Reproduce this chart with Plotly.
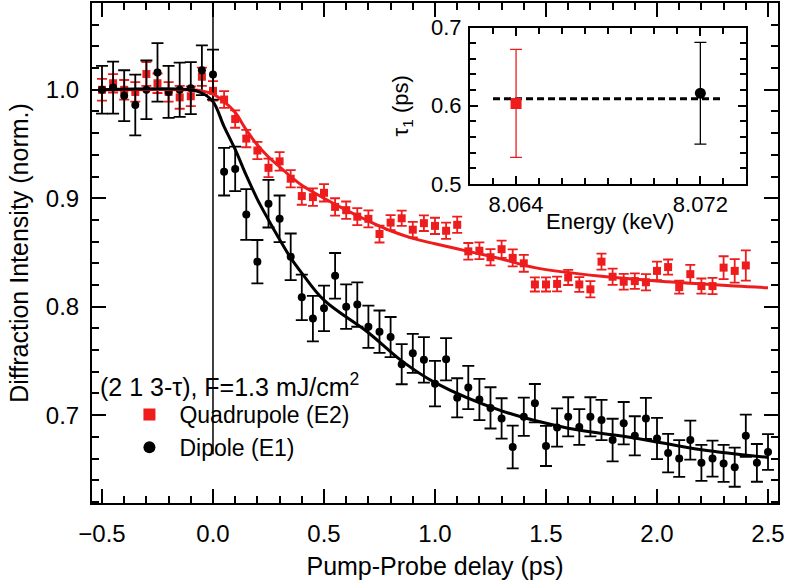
import plotly.graph_objects as go

# ---- main panel data ----
delay_e2 = [-0.50, -0.45, -0.40, -0.35, -0.30, -0.25, -0.20, -0.15, -0.10, -0.05,
            0.00, 0.05, 0.10, 0.15, 0.20, 0.25, 0.30, 0.35, 0.40, 0.45,
            0.50, 0.55, 0.60, 0.65, 0.70, 0.75, 0.80, 0.85, 0.90, 0.95,
            1.00, 1.05, 1.10, 1.15, 1.20, 1.25, 1.30, 1.35, 1.40, 1.45,
            1.50, 1.55, 1.60, 1.65, 1.70, 1.75, 1.80, 1.85, 1.90, 1.95,
            2.00, 2.05, 2.10, 2.15, 2.20, 2.25, 2.30, 2.35, 2.40]
intensity_e2 = [1.000, 1.006, 1.000, 0.998, 1.0145, 1.006, 0.998, 0.993, 0.994, 1.012,
                0.999, 0.991, 0.973, 0.955, 0.944, 0.928, 0.934, 0.918, 0.902, 0.901,
                0.905, 0.892, 0.889, 0.883, 0.881, 0.867, 0.8775, 0.8815, 0.871, 0.877,
                0.8745, 0.870, 0.8755, 0.851, 0.8516, 0.8456, 0.853, 0.845, 0.840, 0.8205,
                0.8205, 0.821, 0.827, 0.8205, 0.816, 0.8415, 0.8276, 0.823, 0.8236, 0.8225,
                0.833, 0.8365, 0.818, 0.830, 0.819, 0.819, 0.836, 0.833, 0.838]
err_e2 = [0.010, 0.0085, 0.009, 0.009, 0.011, 0.009, 0.009, 0.0105, 0.009, 0.0085,
          0.009, 0.0077, 0.008, 0.008, 0.008, 0.0085, 0.0085, 0.008, 0.008, 0.008,
          0.008, 0.008, 0.008, 0.0078, 0.0078, 0.0078, 0.007, 0.007, 0.0072, 0.0072,
          0.0075, 0.0075, 0.0075, 0.0077, 0.0077, 0.0075, 0.008, 0.0078, 0.0078, 0.0065,
          0.0065, 0.0068, 0.007, 0.0068, 0.0075, 0.0074, 0.0075, 0.0072, 0.0072, 0.0075,
          0.0085, 0.007, 0.006, 0.0085, 0.007, 0.0075, 0.0105, 0.0108, 0.014]

delay_e1 = [-0.50, -0.45, -0.40, -0.35, -0.30, -0.25, -0.20, -0.15, -0.10, -0.05,
            0.00, 0.05, 0.10, 0.15, 0.20, 0.25, 0.30, 0.35, 0.40, 0.45,
            0.50, 0.55, 0.60, 0.65, 0.70, 0.75, 0.80, 0.85, 0.90, 0.95,
            1.00, 1.05, 1.10, 1.15, 1.20, 1.25, 1.30, 1.35, 1.40, 1.45,
            1.50, 1.55, 1.60, 1.65, 1.70, 1.75, 1.80, 1.85, 1.90, 1.95,
            2.00, 2.05, 2.10, 2.15, 2.20, 2.25, 2.30, 2.35, 2.40, 2.45, 2.50]
intensity_e1 = [1.000, 1.002, 0.9945, 0.986, 1.000, 1.016, 0.998, 1.000, 1.0015, 1.018,
                1.014, 0.9245, 0.927, 0.885, 0.8415, 0.895, 0.881, 0.846, 0.8086, 0.789,
                0.7985, 0.8285, 0.800, 0.802, 0.7815, 0.777, 0.772, 0.747, 0.757, 0.751,
                0.729, 0.7516, 0.716, 0.7255, 0.7144, 0.7067, 0.697, 0.6706, 0.6985, 0.711,
                0.6716, 0.6886, 0.6985, 0.689, 0.6985, 0.6955, 0.677, 0.6926, 0.681, 0.697,
                0.6785, 0.665, 0.660, 0.677, 0.656, 0.660, 0.6555, 0.652, 0.681, 0.656, 0.666]
err_e1 = [0.022, 0.024, 0.0235, 0.028, 0.027, 0.027, 0.024, 0.025, 0.024, 0.023,
          0.023, 0.022, 0.0205, 0.0234, 0.020, 0.022, 0.0215, 0.0215, 0.021, 0.021,
          0.021, 0.021, 0.0205, 0.0205, 0.0195, 0.0195, 0.0185, 0.0185, 0.018, 0.021,
          0.021, 0.0195, 0.018, 0.020, 0.019, 0.019, 0.0186, 0.0197, 0.0177, 0.0177,
          0.0185, 0.0177, 0.018, 0.0165, 0.018, 0.0185, 0.0197, 0.0195, 0.018, 0.019,
          0.019, 0.0177, 0.017, 0.018, 0.0166, 0.0166, 0.017, 0.018, 0.0195, 0.0174, 0.0165]

# fitted curves
fit_delay_e2 = [-0.50, -0.10, -0.05, 0.00, 0.05, 0.10, 0.15, 0.20, 0.25, 0.30, 0.35, 0.40,
                0.50, 0.60, 0.70, 0.80, 0.90, 1.00, 1.15, 1.30, 1.45, 1.75, 2.05, 2.35, 2.50]
fit_e2 = [1.000, 1.000, 0.999, 0.996, 0.989, 0.979, 0.963, 0.949, 0.938, 0.929, 0.920, 0.912,
          0.900, 0.889, 0.879, 0.870, 0.863, 0.858, 0.851, 0.844, 0.836, 0.828, 0.823, 0.819, 0.8175]
fit_delay_e1 = [-0.50, -0.10, -0.05, 0.00, 0.05, 0.10, 0.15, 0.20, 0.25, 0.30, 0.35, 0.40,
                0.50, 0.70, 0.85, 1.00, 1.30, 1.60, 1.90, 2.20, 2.50]
fit_e1 = [1.000, 1.000, 0.997, 0.989, 0.966, 0.945, 0.921, 0.899, 0.880, 0.862, 0.845, 0.831,
          0.806, 0.776, 0.750, 0.730, 0.704, 0.688, 0.679, 0.668, 0.661]

time_zero_x = [0.0, 0.0]
time_zero_y = [0.664, 1.08]

# ---- inset data ----
energy_e2 = [8.064]
tau1_e2 = [0.603]
tau1_err_e2 = [0.069]
energy_e1 = [8.072]
tau1_e1 = [0.616]
tau1_err_e1 = [0.065]
mean_energy = [8.063, 8.073]
mean_tau1 = [0.609, 0.609]

RED = "#ee1c1c"
BLACK = "#000000"
FONT = "Liberation Sans, Arial, sans-serif"

fig = go.Figure()

fig.add_trace(go.Scatter(x=time_zero_x, y=time_zero_y, mode="lines",
                         line=dict(color=BLACK, width=1.5), showlegend=False, hoverinfo="skip"))

fig.add_trace(go.Scatter(
    x=delay_e2, y=intensity_e2, mode="markers", name="Quadrupole (E2)",
    marker=dict(symbol="square", size=8, color=RED),
    error_y=dict(type="data", array=err_e2, color=RED, thickness=1.8, width=5),
))
fig.add_trace(go.Scatter(
    x=delay_e1, y=intensity_e1, mode="markers", name="Dipole (E1)",
    marker=dict(symbol="circle", size=8, color=BLACK),
    error_y=dict(type="data", array=err_e1, color=BLACK, thickness=1.8, width=6),
))
fig.add_trace(go.Scatter(x=fit_delay_e2, y=fit_e2, mode="lines", line=dict(color=RED, width=3, shape="spline"),
                         showlegend=False, hoverinfo="skip"))
fig.add_trace(go.Scatter(x=fit_delay_e1, y=fit_e1, mode="lines", line=dict(color=BLACK, width=3, shape="spline"),
                         showlegend=False, hoverinfo="skip"))

# inset
fig.add_trace(go.Scatter(x=mean_energy, y=mean_tau1, mode="lines", xaxis="x2", yaxis="y2",
                         line=dict(color=BLACK, width=3, dash="7px,4px"), showlegend=False))
fig.add_trace(go.Scatter(x=energy_e2, y=tau1_e2, mode="markers", xaxis="x2", yaxis="y2",
                         marker=dict(symbol="square", size=11, color=RED),
                         error_y=dict(type="data", array=tau1_err_e2, color=RED, thickness=1.3, width=6),
                         showlegend=False))
fig.add_trace(go.Scatter(x=energy_e1, y=tau1_e1, mode="markers", xaxis="x2", yaxis="y2",
                         marker=dict(symbol="circle", size=11, color=BLACK),
                         error_y=dict(type="data", array=tau1_err_e1, color=BLACK, thickness=1.3, width=6),
                         showlegend=False))

axis_common = dict(showline=True, linecolor=BLACK, linewidth=2, mirror="ticks", ticks="inside",
                   tickcolor=BLACK, showgrid=False, zeroline=False, color=BLACK, automargin=False)

fig.update_layout(
    width=786, height=585,
    margin=dict(l=92, r=8, t=3, b=82),
    paper_bgcolor="white", plot_bgcolor="white",
    font=dict(family=FONT, size=24, color=BLACK),
    xaxis=dict(**axis_common, range=[-0.545, 2.545], tick0=0, dtick=0.5, tickformat=".1f",
               ticklen=14, tickwidth=1.5, tickfont=dict(size=24), ticklabelstandoff=8,
               minor=dict(dtick=0.1, ticklen=7, tickwidth=1.5, ticks="inside", tickcolor=BLACK),
               title=dict(text="Pump-Probe delay (ps)", font=dict(size=25), standoff=12)),
    yaxis=dict(**axis_common, range=[0.619, 1.08], tick0=0, dtick=0.1, tickformat=".1f",
               ticklen=14, tickwidth=1.5, tickfont=dict(size=24), ticklabelstandoff=6,
               minor=dict(dtick=0.02, ticklen=7, tickwidth=1.5, ticks="inside", tickcolor=BLACK),
               title=dict(text="Diffraction Intensity (norm.)", font=dict(size=25), standoff=10)),
    xaxis2=dict(**axis_common, domain=[0.551, 0.954], anchor="y2", range=[8.062, 8.074],
                tick0=8.064, dtick=0.008, tickformat=".3f", ticklen=8, tickwidth=1.5,
                tickfont=dict(size=22),
                minor=dict(dtick=0.001, ticklen=6, tickwidth=1.5, ticks="inside", tickcolor=BLACK)),
    yaxis2=dict(**axis_common, domain=[0.638, 0.951], anchor="x2", range=[0.4999, 0.7001],
                tick0=0.5, dtick=0.1, tickformat=".1f", ticklen=8, tickwidth=1.5,
                tickfont=dict(size=22), ticklabelstandoff=2,
                minor=dict(dtick=0.02, ticklen=6, tickwidth=1.5, ticks="inside", tickcolor=BLACK),
                title=dict(text="τ<sub>1</sub> (ps)", font=dict(size=22), standoff=16)),
    legend=dict(x=0.04, y=0.22, xanchor="left", yanchor="top", bgcolor="rgba(0,0,0,0)",
                font=dict(size=23), itemwidth=50, tracegroupgap=0, itemsizing="constant"),
    annotations=[
        dict(text="(2 1 3-τ), F=1.3 mJ/cm<sup>2</sup>", xref="paper", yref="paper",
             x=0.009, y=0.236, xanchor="left", yanchor="middle", showarrow=False,
             font=dict(size=25)),
        dict(text="Energy (keV)", xref="paper", yref="paper", x=0.755, y=0.564,
             xanchor="center", yanchor="middle", showarrow=False, font=dict(size=22)),
    ],
)

fig.write_html("out.html", config={"displayModeBar": False},
               post_script="document.body.style.margin = '0';")
